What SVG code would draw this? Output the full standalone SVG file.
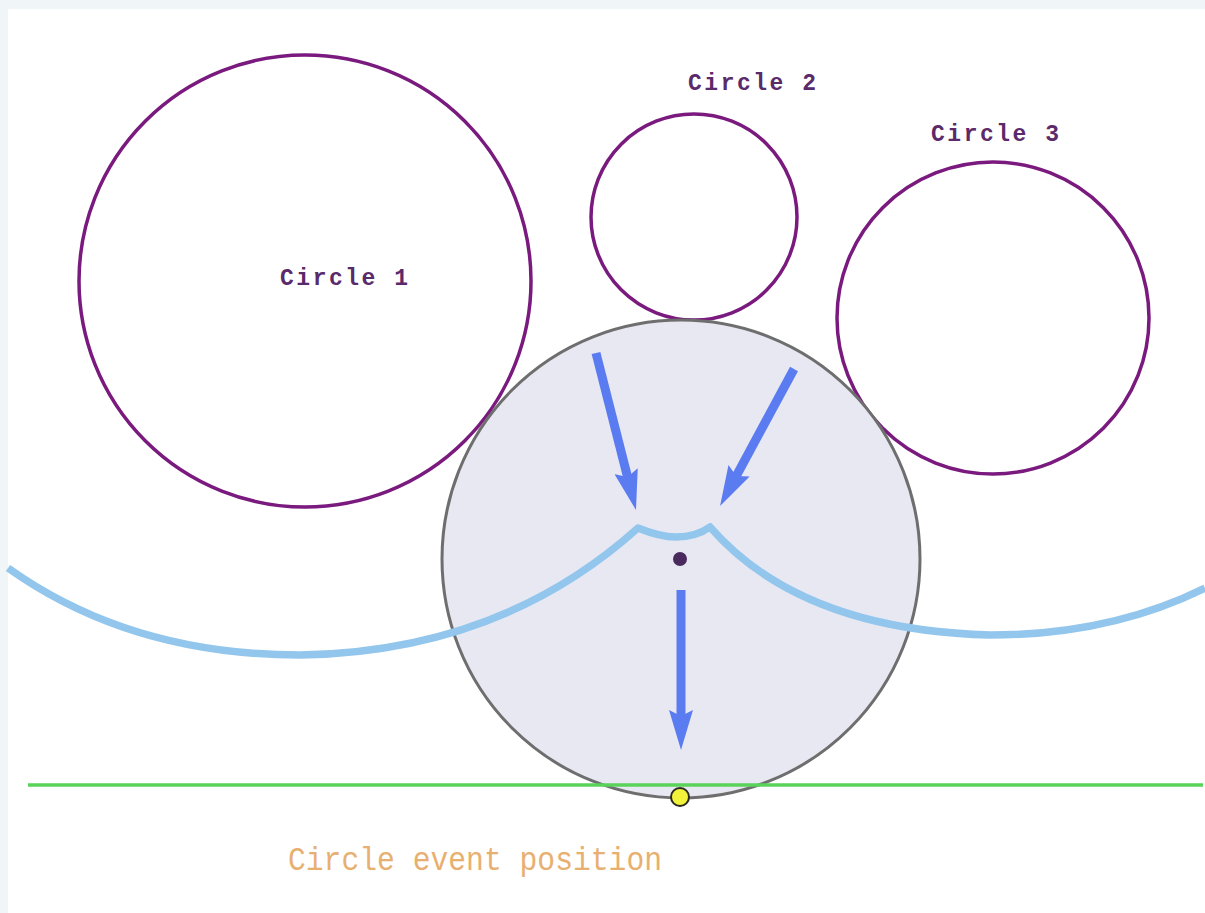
<svg xmlns="http://www.w3.org/2000/svg" width="1205" height="913" viewBox="0 0 1205 913">
<style>
.site{fill:none;stroke:#7a1a7e;stroke-width:3.5}
.lbl{font-family:"Liberation Mono",monospace;font-weight:bold;font-size:23px;fill:#5a2a6a}
.arrow{stroke:#5b7cf0;stroke-width:9;fill:none}
</style>
<defs>
<marker id="ah" viewBox="0 0 40 24" refX="6" refY="12" markerWidth="40" markerHeight="24" markerUnits="userSpaceOnUse" orient="auto">
<path d="M0,0 L40,12 L0,24 L6,12 Z" fill="#5b7cf0"/>
</marker>
</defs>
<rect width="1205" height="913" fill="#f0f5f8"/>
<rect x="8" y="9" width="1197" height="904" fill="#ffffff"/>
<g id="circle1"><circle class="site" cx="305" cy="281" r="226"/><text class="lbl" x="344" y="285" text-anchor="middle" textLength="128">Circle 1</text></g>
<g id="circle2"><circle class="site" cx="694" cy="217" r="103"/><text class="lbl" x="752" y="90" text-anchor="middle" textLength="128">Circle 2</text></g>
<g id="circle3"><circle class="site" cx="993" cy="318" r="156"/><text class="lbl" x="995" y="141" text-anchor="middle" textLength="128">Circle 3</text></g>
<g id="event-circle"><circle cx="681" cy="559" r="239" fill="#e8e8f3" stroke="#6e6e6e" stroke-width="3"/><circle cx="680" cy="559" r="7" fill="#4a2a5e"/></g>
<g id="sweep-line"><line x1="28" y1="785" x2="1203" y2="785" stroke="#5ad35a" stroke-width="3.5"/></g>
<g id="beach-line"><path d="M8,568 Q130,655 300,655 Q500,652 638,528 Q660,537 676,537 Q696,537 710,527 Q800,630 990,635 Q1110,635 1205,588" fill="none" stroke="#93c6ec" stroke-width="7.5" stroke-linejoin="round"/></g>
<g id="connectors">
<line class="arrow" x1="596" y1="353" x2="627.6" y2="477.1" marker-end="url(#ah)"/>
<line class="arrow" x1="794" y1="369" x2="736.2" y2="476.1" marker-end="url(#ah)"/>
<line class="arrow" x1="681" y1="590" x2="681" y2="716" marker-end="url(#ah)"/>
</g>
<g id="event-point"><circle cx="680" cy="797" r="9" fill="#f2f23a" stroke="#2a2a20" stroke-width="2"/><text x="475" y="870" text-anchor="middle" font-family="Liberation Mono, monospace" font-size="33" fill="#e8b070" textLength="374" lengthAdjust="spacingAndGlyphs">Circle event position</text></g>
</svg>
